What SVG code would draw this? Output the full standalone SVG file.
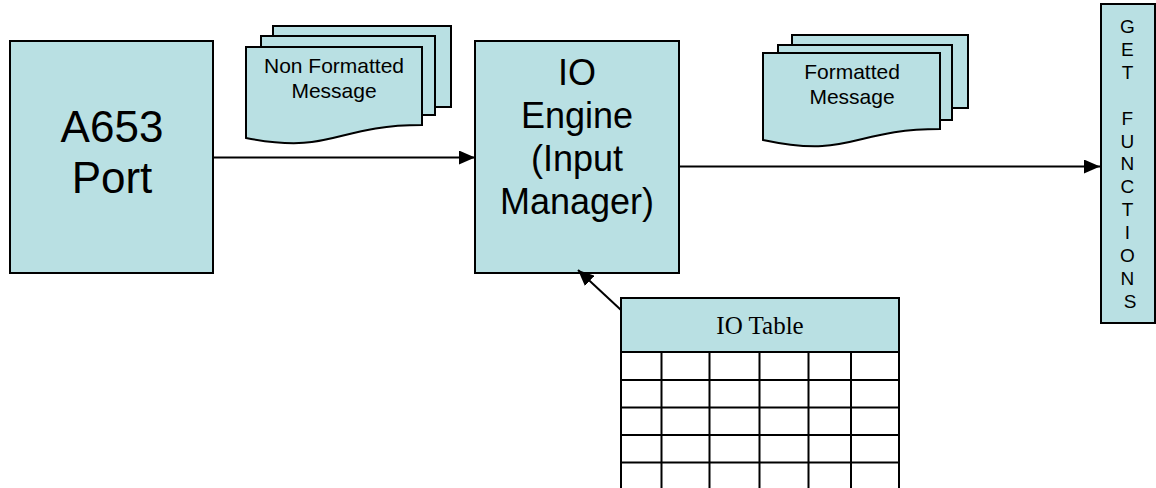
<svg xmlns="http://www.w3.org/2000/svg" width="1156" height="488" viewBox="0 0 1156 488">
  <style>
    .box { fill: #B9E0E3; stroke: #000; stroke-width: 2; }
    .page { fill: #B9E0E3; stroke: #000; stroke-width: 2; stroke-linejoin: miter; }
    .cell { fill: #fff; stroke: #000; stroke-width: 2; }
    .grid { stroke: #000; stroke-width: 2; fill: none; }
    .link { stroke: #000; stroke-width: 2; fill: none; }
    .sans { font-family: "Liberation Sans", Arial, sans-serif; fill: #000; text-anchor: middle; }
    .serif { font-family: "Liberation Serif", "Times New Roman", serif; fill: #000; text-anchor: middle; }
  </style>
  <defs>
    <marker id="arrow" viewBox="0 0 16 14" refX="16" refY="7" markerWidth="16" markerHeight="14" markerUnits="userSpaceOnUse" orient="auto">
      <path d="M0,0 L16,7 L0,14 z" fill="#000"/>
    </marker>
  </defs>

  <rect width="1156" height="488" fill="#fff"/>

  <!-- ARINC 653 port -->
  <g id="a653-port">
    <rect class="box" x="10" y="41" width="203" height="232"/>
    <text class="sans" font-size="44" x="112" y="142">A653</text>
    <text class="sans" font-size="44" x="112" y="193">Port</text>
  </g>

  <!-- raw messages (stacked documents) -->
  <g id="non-formatted-message">
    <path class="page" d="M273,36 V26 H451 V107 H435"/>
    <path class="page" d="M261,47 V36 H435 V115 H422"/>
    <path class="page" d="M246,47 H422 V125 C334,125 334,155 246,138 Z"/>
    <text class="sans" font-size="21" x="334" y="73">Non Formatted</text>
    <text class="sans" font-size="21" x="334" y="98">Message</text>
  </g>

  <!-- IO engine -->
  <g id="io-engine">
    <rect class="box" x="475" y="41" width="204" height="232"/>
    <text class="sans" font-size="36" x="577" y="85">IO</text>
    <text class="sans" font-size="36" x="577" y="128">Engine</text>
    <text class="sans" font-size="36" x="577" y="171">(Input</text>
    <text class="sans" font-size="36" x="577" y="214">Manager)</text>
  </g>

  <!-- formatted messages (stacked documents) -->
  <g id="formatted-message">
    <path class="page" d="M792,45 V35 H968 V108 H952"/>
    <path class="page" d="M778,53 V45 H952 V120 H940"/>
    <path class="page" d="M763,53 H940 V129 C852,129 852,159 763,140 Z"/>
    <text class="sans" font-size="21" x="852" y="79">Formatted</text>
    <text class="sans" font-size="21" x="852" y="104">Message</text>
  </g>

  <!-- GET functions -->
  <g id="get-functions">
    <rect class="box" x="1101" y="4" width="54" height="319"/>
    <text class="sans" font-size="19">
      <tspan x="1130" y="33">G</tspan>
      <tspan x="1130" y="56">E</tspan>
      <tspan x="1130" y="79">T</tspan>
      <tspan x="1130" y="125">F</tspan>
      <tspan x="1130" y="148">U</tspan>
      <tspan x="1130" y="170">N</tspan>
      <tspan x="1130" y="193">C</tspan>
      <tspan x="1130" y="216">T</tspan>
      <tspan x="1130" y="239">I</tspan>
      <tspan x="1130" y="262">O</tspan>
      <tspan x="1130" y="285">N</tspan>
      <tspan x="1130" y="308">S</tspan>
    </text>
  </g>

  <!-- IO table -->
  <g id="io-table">
    <rect class="cell" x="621" y="352" width="278" height="140"/>
    <rect class="box" x="621" y="298" width="278" height="54"/>
    <text class="serif" font-size="25" x="760" y="334">IO Table</text>
    <path class="grid" d="M621,380 H899 M621,407.5 H899 M621,435 H899 M621,462.5 H899
                          M661.5,352 V492 M709.5,352 V492 M759.5,352 V492 M808.5,352 V492 M851,352 V492"/>
  </g>

  <!-- connectors -->
  <g id="connectors">
    <line class="link" x1="213" y1="157.5" x2="475" y2="157.5" marker-end="url(#arrow)"/>
    <line class="link" x1="679" y1="166.5" x2="1100" y2="166.5" marker-end="url(#arrow)"/>
    <line class="link" x1="621" y1="310" x2="578" y2="270" marker-end="url(#arrow)"/>
  </g>
</svg>
